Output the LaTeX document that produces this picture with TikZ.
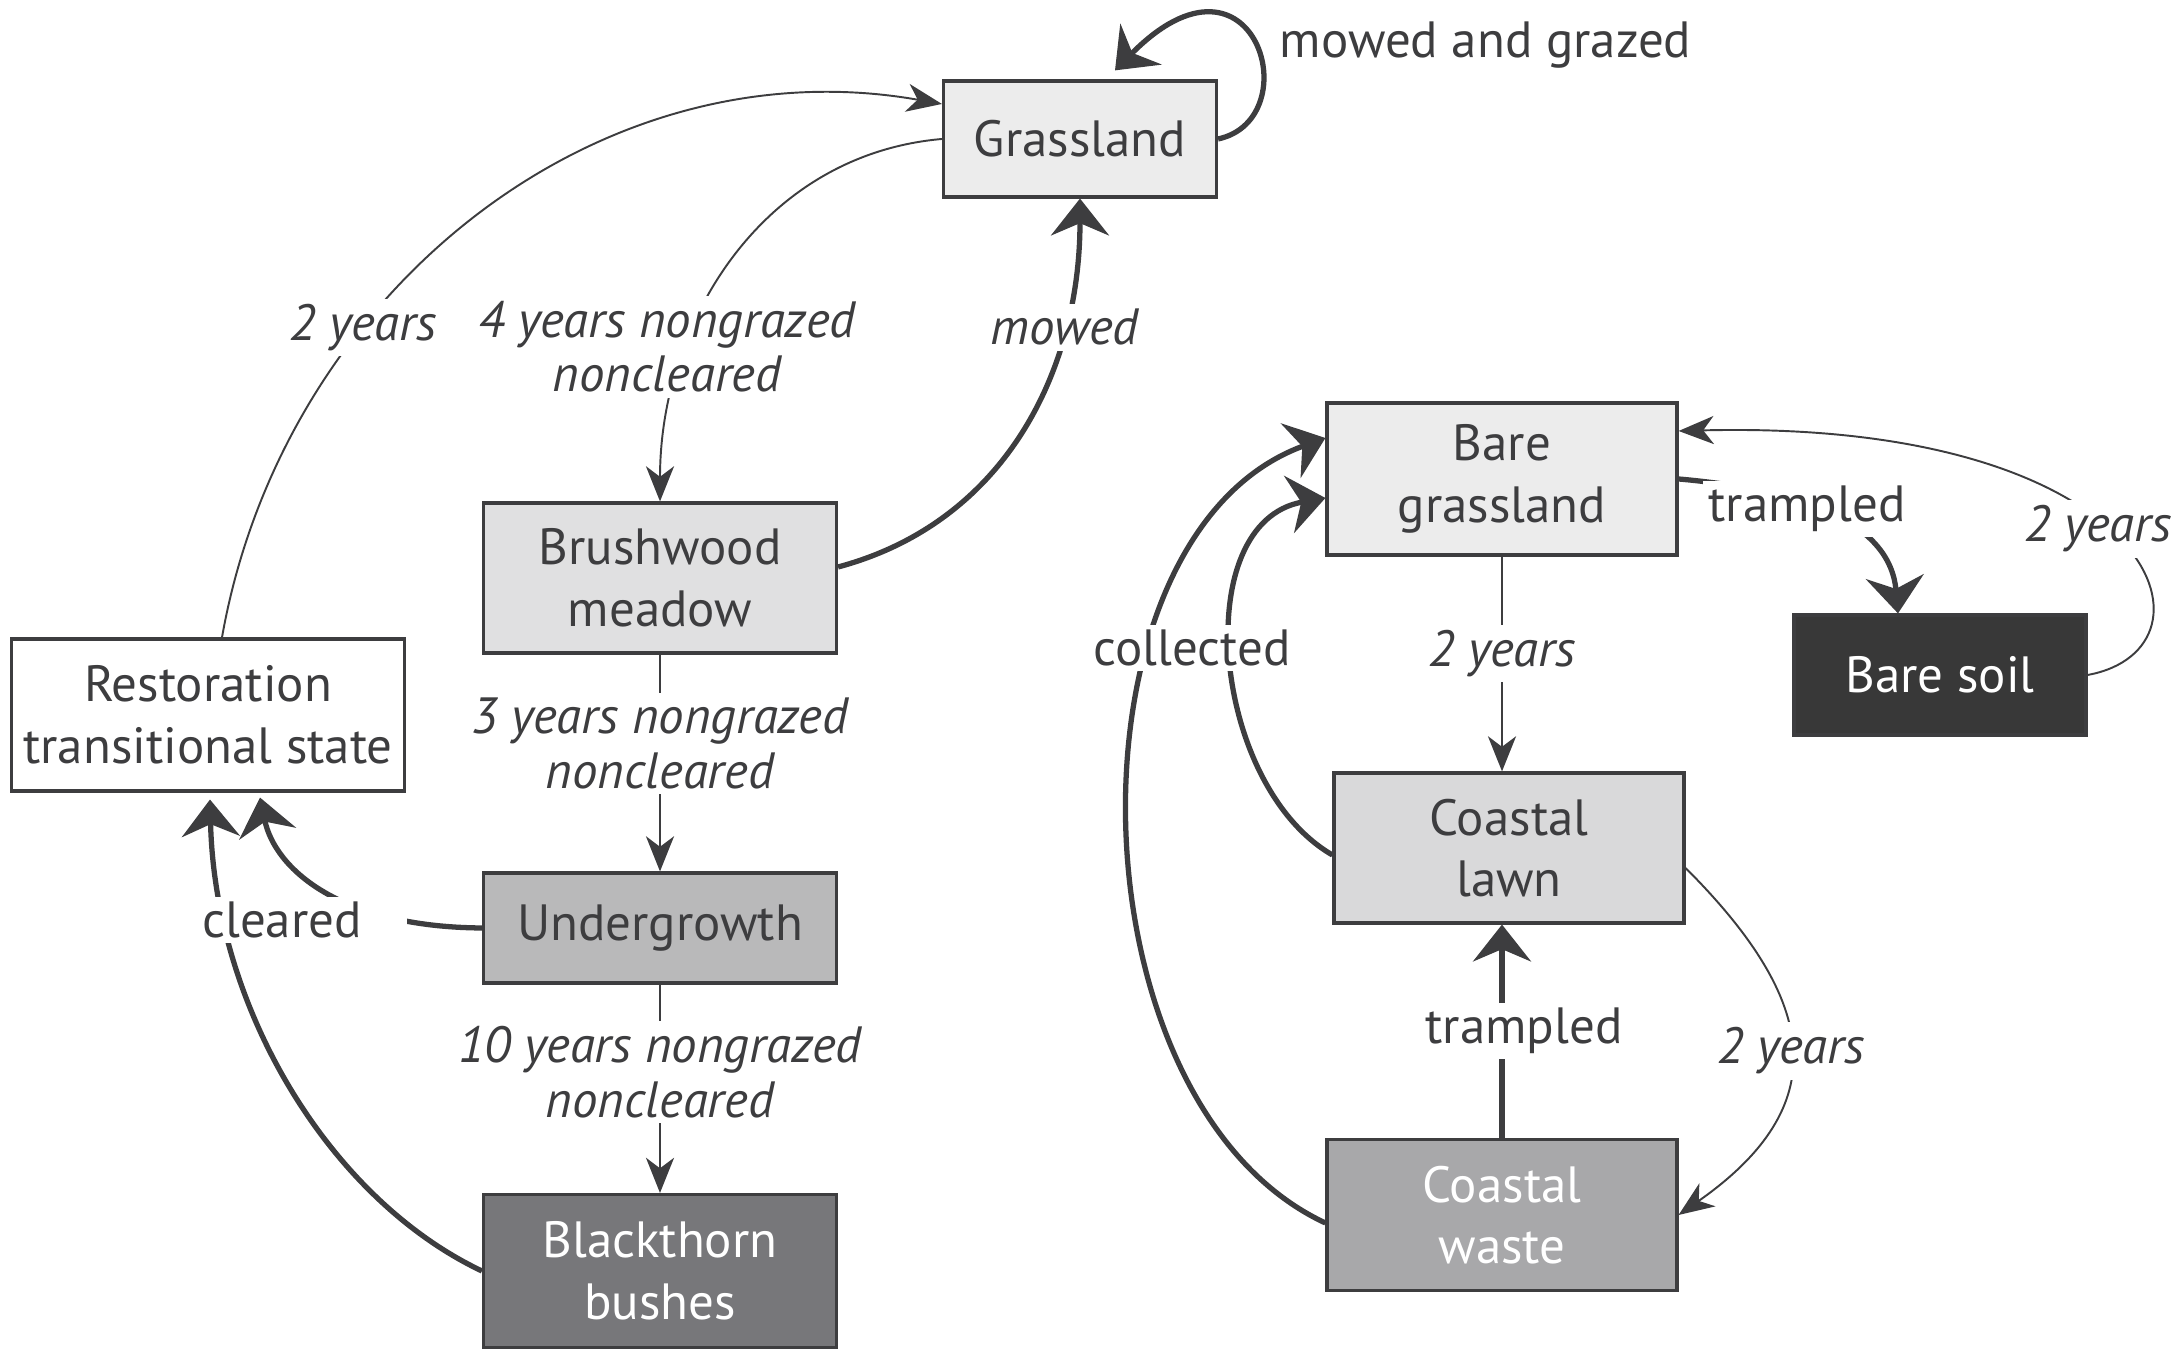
\documentclass[tikz,border=0pt]{standalone}
\usepackage{fontspec}
\setmainfont{PT Sans}
\usetikzlibrary{arrows.meta}

\definecolor{ink}{HTML}{3D3D3F}
\definecolor{grasscol}{HTML}{ECECEC}
\definecolor{brushcol}{HTML}{E0E0E1}
\definecolor{undercol}{HTML}{B9B9BA}
\definecolor{blackcol}{HTML}{77777A}
\definecolor{soilcol}{HTML}{383838}
\definecolor{lawncol}{HTML}{D9D9DA}
\definecolor{wastecol}{HTML}{A8A8AA}

\begin{document}
\begin{tikzpicture}[
    font=\fontsize{14.5}{17.5}\selectfont, text=ink,
    state/.style={draw=ink, line width=0.9pt, align=center, inner sep=0pt},
    timed/.style={draw=ink, line width=0.55pt, -{Stealth[length=10pt,width=8pt,inset=3pt]}},
    mgmt/.style={draw=ink, line width=1.5pt, -{Stealth[length=10.5pt,width=16.5pt,inset=3.5pt]}},
    yrs/.style={fill=white, inner sep=1.5pt, align=center, font=\fontsize{14.5}{15.5}\selectfont\itshape},
    act/.style={fill=white, inner sep=1.5pt, align=center},
  ]
  \useasboundingbox (0,0) rectangle (21.79,13.49);

  %% states, left-hand side
  \node[state, fill=grasscol, minimum width=2.73cm, minimum height=1.16cm] (grass) at (10.80,12.10) {Grassland};
  \node[state, fill=brushcol, minimum width=3.53cm, minimum height=1.50cm] (brush) at (6.60,7.71) {Brushwood\\meadow};
  \node[state, fill=white, minimum width=3.93cm, minimum height=1.52cm] (resto) at (2.08,6.34) {Restoration\\transitional state};
  \node[state, fill=undercol, minimum width=3.53cm, minimum height=1.10cm] (under) at (6.60,4.21) {Undergrowth};
  \node[state, fill=blackcol, text=white, minimum width=3.53cm, minimum height=1.53cm] (black) at (6.60,0.78) {Blackthorn\\bushes};

  %% states, right-hand side
  \node[state, fill=grasscol, minimum width=3.50cm, minimum height=1.52cm] (bgrass) at (15.02,8.70) {Bare\\grassland};
  \node[state, fill=soilcol, text=white, minimum width=2.92cm, minimum height=1.20cm] (soil) at (19.40,6.74) {Bare soil};
  \node[state, fill=lawncol, minimum width=3.50cm, minimum height=1.50cm] (lawn) at (15.09,5.01) {Coastal\\lawn};
  \node[state, fill=wastecol, text=white, minimum width=3.50cm, minimum height=1.51cm] (waste) at (15.02,1.34) {Coastal\\waste};

  %% left-hand transitions
  \draw[timed] ([xshift=0.14cm]resto.north) to[out=80,in=170] node[yrs, pos=0.34] (l2y) {2 years} ([yshift=0.35cm]grass.west);
  \draw[timed] (grass.west) to[out=185,in=90] node[yrs, pos=0.7, xshift=-0.2cm] (l4y) {4 years nongrazed\\noncleared} (brush.north);
  \draw[mgmt] ([yshift=0.11cm]brush.east) to[out=15,in=-90] node[yrs, pos=0.74] (lmow) {mowed} (grass.south);
  \draw[mgmt] (grass.east) .. controls (13.1,12.3) and (12.55,14.2) .. ([xshift=0.35cm,yshift=0.09cm]grass.north)
    node[act, anchor=west] (lmg) at (12.72,13.04) {mowed and grazed};
  \draw[timed] (brush.south) -- node[yrs, pos=0.41] (l3y) {3 years nongrazed\\noncleared} (under.north);
  \draw[timed] (under.south) -- node[yrs, pos=0.42] (l10y) {10 years nongrazed\\noncleared} (black.north);
  %% both clearings end under the restoration state, one label covers the two lines
  \draw[mgmt] (black.west) .. controls (3.3,1.5) and (2.15,3.4) .. ([xshift=0.02cm,yshift=-0.07cm]resto.south);
  \draw[mgmt] (under.west) .. controls (3.4,4.22) and (2.75,4.8) .. ([xshift=0.52cm,yshift=-0.05cm]resto.south)
    node[act, inner xsep=0.45cm] (lclr) at (2.82,4.29) {cleared};

  %% right-hand transitions
  \draw[mgmt] (bgrass.east) to[out=-5,in=95] ([xshift=-0.42cm]soil.north)
    node[act] (ltr1) at (18.07,8.40) {trampled};
  \draw[timed] (soil.east) .. controls (22.3,7.0) and (21.6,9.3) .. ([yshift=0.48cm]bgrass.east)
    node[yrs] (l2y2) at (20.98,8.20) {2 years};
  \draw[timed] (bgrass.south) -- node[yrs, pos=0.45] (l2y3) {2 years} (bgrass.south |- lawn.north);
  \draw[mgmt] ([yshift=-0.07cm]lawn.west) to[out=150,in=190] ([yshift=-0.19cm]bgrass.west);
  \draw[mgmt] ([yshift=-0.08cm]waste.west) to[out=155,in=200,looseness=0.93] ([yshift=0.41cm]bgrass.west)
    node[act] (lcol) at (11.92,7.01) {collected};
  \draw[mgmt] (waste.north) -- node[act, xshift=0.22cm] (ltr2) {trampled} (waste.north |- lawn.south);
  \draw[timed] ([yshift=-0.2cm]lawn.east) to[out=-45,in=35,looseness=1.4] node[yrs] (l2y4) {2 years} (waste.east);
\end{tikzpicture}
\end{document}
